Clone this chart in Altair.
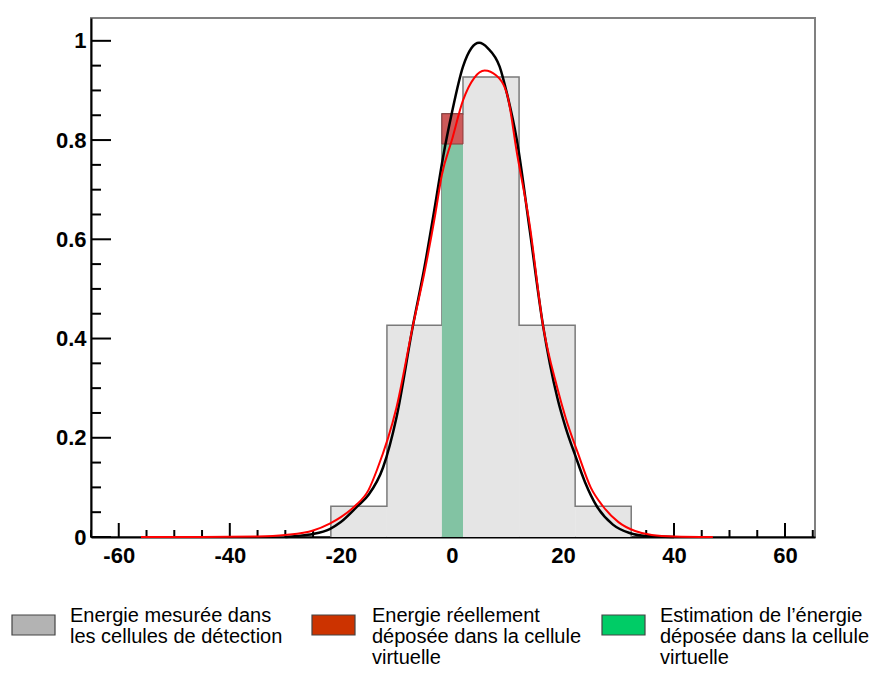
import altair as alt
import pandas as pd

# ---------------- data ----------------
hist_edges = [-21.8, -11.7, -1.8, 2.0, 12.1, 22.2, 32.3]
hist_values = [0.062, 0.427, 0.853, 0.927, 0.427, 0.062]

virt_left = [-1.8]
virt_right = [2.0]
estimate_top = [0.792]   # green bar
real_top = [0.853]       # red bar

black_x = [-30, -28, -25, -22, -20, -17, -15, -12.4, -10, -7, -5, -3, -1.6, 0, 2, 3.5, 4.9,
           6.5, 8.6, 10, 11.7, 14, 16.4, 19, 20.5, 22.2, 24, 26.1, 29, 32, 35, 40]
black_y = [0.0, 0.002, 0.006, 0.016, 0.03, 0.062, 0.085, 0.14, 0.24, 0.427, 0.54, 0.67, 0.765,
           0.855, 0.948, 0.985, 0.996, 0.985, 0.948, 0.89, 0.80, 0.62, 0.427, 0.28, 0.22,
           0.165, 0.11, 0.062, 0.025, 0.008, 0.002, 0.0]

red_x = [-56, -45, -35, -30, -25, -22, -20, -17.5, -15, -13.5, -10, -7, -5, -3, -1.8, 0, 2,
         4, 5.9, 8, 10, 11.7, 14, 16.4, 19, 20.5, 22.7, 25, 27.2, 30, 33, 36, 40, 47]
red_y = [0.0, 0.0, 0.001, 0.004, 0.013, 0.027, 0.04, 0.062, 0.095, 0.135, 0.26, 0.427, 0.53,
         0.65, 0.73, 0.80, 0.88, 0.925, 0.94, 0.93, 0.89, 0.775, 0.63, 0.427, 0.30, 0.24,
         0.169, 0.10, 0.062, 0.03, 0.012, 0.004, 0.001, 0.0]

x_major = [-60, -40, -20, 0, 20, 40, 60]
x_minor = [-65, -55, -50, -45, -35, -30, -25, -15, -10, -5, 5, 10, 15, 25, 30, 35, 45, 50, 55, 65]
y_major = [0, 0.2, 0.4, 0.6, 0.8, 1.0]
y_minor = [0.05, 0.1, 0.15, 0.25, 0.3, 0.35, 0.45, 0.5, 0.55, 0.65, 0.7, 0.75, 0.85, 0.9, 0.95]

legend_labels = ["Energie mesurée dans\nles cellules de détection",
                 "Energie réellement\ndéposée dans la cellule\nvirtuelle",
                 "Estimation de l’énergie\ndéposée dans la cellule\nvirtuelle"]
legend_colors = ["#b3b3b3", "#cc3300", "#00cc66"]

# ---------------- tables ----------------
hist_df = pd.DataFrame({"x0": hist_edges[:-1], "x1": hist_edges[1:], "v": hist_values,
                        "z": [0.0] * len(hist_values)})
outline_rows = [(hist_edges[0], 0.0)]
for a, b, v in zip(hist_edges[:-1], hist_edges[1:], hist_values):
    outline_rows += [(a, v), (b, v)]
outline_rows.append((hist_edges[-1], 0.0))
outline_df = pd.DataFrame({"x": [r[0] for r in outline_rows],
                           "y": [r[1] for r in outline_rows],
                           "o": list(range(len(outline_rows)))})
bars_df = pd.DataFrame({"x0": virt_left, "x1": virt_right, "g": estimate_top, "r": real_top,
                        "z": [0.0]})
black_df = pd.DataFrame({"x": black_x, "y": black_y})
red_df = pd.DataFrame({"x": red_x, "y": red_y})

FONT = "Liberation Sans"
xscale = alt.Scale(domain=[-65, 65.4], nice=False, zero=False)
yscale = alt.Scale(domain=[0, 1.046], nice=False)
xaxis = alt.Axis(values=x_major, tickSize=0, labelPadding=8, labelFont=FONT, labelFontSize=22,
                 labelFontWeight="bold", labelColor="black", domainColor="black", domainWidth=2,
                 grid=False, title=None, labelExpr="'' + datum.value", zindex=0,
                 labelFlush=False, labelOverlap=False)
yaxis = alt.Axis(values=y_major, tickSize=0, labelPadding=5, labelFont=FONT, labelFontSize=22,
                 labelFontWeight="bold", labelColor="black", domainColor="black", domainWidth=2,
                 grid=False, title=None, format=".1~f", zindex=0, labelOverlap=False)


def X(f):
    return alt.X(f, type="quantitative", scale=xscale, axis=xaxis)


def Y(f):
    return alt.Y(f, type="quantitative", scale=yscale, axis=yaxis)


H = 519
xmaj = alt.Chart(pd.DataFrame({"t": x_major})).mark_rule(color="black", strokeWidth=2).encode(
    x=X("t"), y=alt.value(H), y2=alt.value(H - 14))
xmin = alt.Chart(pd.DataFrame({"t": x_minor})).mark_rule(color="black", strokeWidth=2).encode(
    x=X("t"), y=alt.value(H), y2=alt.value(H - 7))
ymaj = alt.Chart(pd.DataFrame({"t": y_major})).mark_rule(color="black", strokeWidth=2).encode(
    y=Y("t"), x=alt.value(0), x2=alt.value(20))
ymin = alt.Chart(pd.DataFrame({"t": y_minor})).mark_rule(color="black", strokeWidth=2).encode(
    y=Y("t"), x=alt.value(0), x2=alt.value(10))

hist = alt.Chart(hist_df).mark_rect(color="#e5e5e5").encode(
    x=X("x0"), x2="x1", y=Y("v"), y2="z")
outline = alt.Chart(outline_df).mark_line(color="#7a7a7a", strokeWidth=1.5).encode(
    x=X("x"), y=Y("y"), order="o:Q")
green = alt.Chart(bars_df).mark_rect(color="#82c3a3").encode(
    x=X("x0"), x2="x1", y=Y("g"), y2="z")
red_bar = alt.Chart(bars_df).mark_rect(color="#cd5a5a", stroke="#8c3c3c", strokeWidth=1).encode(
    x=X("x0"), x2="x1", y=Y("g"), y2="r")
black_line = alt.Chart(black_df).mark_line(color="black", strokeWidth=2.5, interpolate="monotone").encode(
    x=X("x"), y=Y("y"))
red_line = alt.Chart(red_df).mark_line(color="#ff0000", strokeWidth=2, interpolate="monotone").encode(
    x=X("x"), y=Y("y"))

layers = [xmin, xmaj, ymin, ymaj, hist, outline, green, red_bar, black_line, red_line]

sw_x = [-79, 221, 511]
tx_x = [-21, 281, 569]
for lab, col, sx, tx in zip(legend_labels, legend_colors, sw_x, tx_x):
    d = pd.DataFrame({"label": [lab], "c": [col]})
    layers.append(alt.Chart(d).mark_rect(stroke="#444444", strokeWidth=1.2, fill=col).encode(
        x=alt.value(sx), x2=alt.value(sx + 43), y=alt.value(597), y2=alt.value(617)))
    layers.append(alt.Chart(d).mark_text(align="left", baseline="alphabetic", lineBreak="\n",
                                         lineHeight=21, font=FONT, fontSize=20, color="black").encode(
        x=alt.value(tx), y=alt.value(604), text="label:N"))

chart = alt.layer(*layers).properties(
    width=724, height=H,
    autosize=alt.AutoSizeParams(type="none"),
    padding={"left": 83, "top": 10, "right": 55, "bottom": 134},
).configure_view(stroke="#808080", strokeWidth=2)

chart.save("out.html", embed_options={"renderer": "svg", "actions": False})
